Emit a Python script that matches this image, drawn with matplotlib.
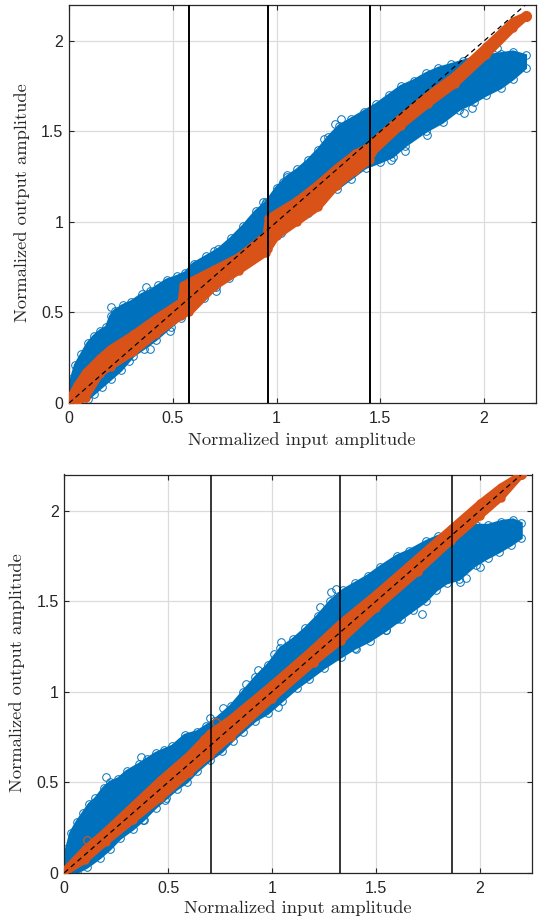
import matplotlib
matplotlib.use('Agg')
import matplotlib.pyplot as plt

blue = '#0072BD'
orange = '#D95319'
dark = '#262626'
ticks = [0, 0.5, 1, 1.5, 2]
tick_labels = ['0', '0.5', '1', '1.5', '2']
xlabel = 'Normalized input amplitude'
ylabel = 'Normalized output amplitude'

# top panel, edges of the clouds
top_vlines = [0.58, 0.96, 1.45]
top_up_x = [0, 0.01, 0.03, 0.06, 0.09, 0.12, 0.15, 0.18, 0.2, 0.22, 0.26, 0.3, 0.35, 0.39, 0.43, 0.47, 0.52,
            0.56, 0.6, 0.66, 0.72, 0.78, 0.84, 0.9, 0.95, 1.0, 1.05, 1.1, 1.15, 1.2, 1.25, 1.3, 1.36, 1.42,
            1.48, 1.54, 1.6, 1.66, 1.72, 1.78, 1.84, 1.9, 1.96, 2.02, 2.08, 2.14, 2.2]
top_up_y = [0.03, 0.13, 0.21, 0.27, 0.33, 0.37, 0.4, 0.42, 0.48, 0.51, 0.54, 0.56, 0.6, 0.62, 0.65, 0.68, 0.7,
            0.72, 0.77, 0.81, 0.85, 0.91, 0.98, 1.06, 1.11, 1.19, 1.25, 1.29, 1.34, 1.4, 1.47, 1.53, 1.57, 1.61,
            1.65, 1.7, 1.75, 1.78, 1.82, 1.85, 1.87, 1.89, 1.91, 1.92, 1.93, 1.94, 1.92]
top_lo_x = [0, 0.05, 0.09, 0.12, 0.16, 0.2, 0.25, 0.31, 0.36, 0.42, 0.49, 0.54, 0.58, 0.65, 0.71, 0.77, 0.82,
            0.88, 0.95, 1.02, 1.08, 1.15, 1.22, 1.29, 1.36, 1.43, 1.5, 1.56, 1.62, 1.72, 1.8, 1.88, 1.95,
            2.01, 2.08, 2.14, 2.2]
top_lo_y = [0, 0, 0.02, 0.05, 0.09, 0.13, 0.18, 0.26, 0.3, 0.35, 0.42, 0.47, 0.52, 0.58, 0.64, 0.69, 0.74,
            0.8, 0.86, 0.94, 1.0, 1.05, 1.12, 1.18, 1.24, 1.3, 1.33, 1.36, 1.42, 1.5, 1.55, 1.62, 1.66,
            1.7, 1.74, 1.79, 1.85]
top_out_x = [1.312, 1.28, 1.23, 1.05, 1.03, 0.945, 1.94, 1.905, 1.725, 1.62, 1.55, 2.06, 0.486, 0.39, 0.29, 0.2, 0.37, 0.71, 0.7, 0.935]
top_out_y = [1.567, 1.54, 1.46, 1.26, 1.22, 1.1, 1.63, 1.6, 1.48, 1.39, 1.34, 1.96, 0.4, 0.3, 0.23, 0.53, 0.64, 0.62, 0.84, 1.11]
top_or_x = [0, 0.04, 0.08, 0.15, 0.2, 0.31, 0.42, 0.54, 0.55, 0.58, 0.7, 0.82, 0.95, 0.96, 1.0, 1.1, 1.2, 1.29,
            1.38, 1.45, 1.46, 1.6, 1.73, 1.86, 2.01, 2.14, 2.2]
top_or_up = [0.02, 0.1, 0.17, 0.25, 0.3, 0.38, 0.47, 0.56, 0.65, 0.67, 0.74, 0.81, 0.93, 1.02, 1.05, 1.12, 1.21,
             1.3, 1.38, 1.42, 1.44, 1.58, 1.7, 1.81, 1.97, 2.11, 2.14]
top_or_lo = [0, 0, 0.03, 0.16, 0.2, 0.28, 0.38, 0.48, 0.49, 0.5, 0.64, 0.73, 0.83, 0.85, 0.92, 1.0, 1.08, 1.2,
             1.28, 1.34, 1.38, 1.53, 1.65, 1.76, 1.92, 2.07, 2.13]

# bottom panel
bot_vlines = [0.705, 1.328, 1.865]
bot_up_x = [0, 0.01, 0.03, 0.06, 0.09, 0.12, 0.15, 0.19, 0.22, 0.26, 0.3, 0.36, 0.4, 0.44, 0.48, 0.52, 0.58,
            0.64, 0.68, 0.72, 0.8, 0.86, 0.92, 0.98, 1.04, 1.1, 1.16, 1.22, 1.28, 1.34, 1.4, 1.46, 1.52,
            1.6, 1.66, 1.74, 1.8, 1.86, 1.92, 1.98, 2.04, 2.1, 2.16, 2.2]
bot_up_y = [0.03, 0.13, 0.22, 0.28, 0.33, 0.38, 0.41, 0.47, 0.5, 0.52, 0.56, 0.6, 0.63, 0.66, 0.68, 0.7, 0.76,
            0.78, 0.81, 0.84, 0.92, 1.0, 1.08, 1.15, 1.24, 1.29, 1.35, 1.42, 1.5, 1.56, 1.6, 1.64, 1.69,
            1.75, 1.78, 1.83, 1.86, 1.87, 1.9, 1.92, 1.92, 1.94, 1.95, 1.93]
bot_lo_x = [0, 0.06, 0.11, 0.17, 0.22, 0.27, 0.33, 0.38, 0.44, 0.49, 0.54, 0.59, 0.64, 0.7, 0.76, 0.81, 0.86,
            0.92, 0.98, 1.05, 1.12, 1.18, 1.25, 1.33, 1.4, 1.47, 1.55, 1.62, 1.68, 1.74, 1.79, 1.84, 1.9, 1.98,
            2.04, 2.09, 2.15, 2.2]
bot_lo_y = [0, 0, 0.03, 0.08, 0.13, 0.19, 0.24, 0.29, 0.36, 0.41, 0.46, 0.5, 0.56, 0.62, 0.67, 0.73, 0.78,
            0.84, 0.88, 0.95, 1.02, 1.07, 1.13, 1.19, 1.24, 1.28, 1.34, 1.4, 1.45, 1.5, 1.56, 1.6, 1.62, 1.7,
            1.74, 1.77, 1.81, 1.85]
bot_out_x = [1.31, 1.285, 1.23, 1.045, 1.01, 1.935, 1.905, 2.0, 1.72, 1.6, 1.55, 1.405, 0.2, 0.485, 0.385, 0.37,
             1.03, 0.93, 0.875, 0.765, 0.7]
bot_out_y = [1.565, 1.55, 1.47, 1.275, 1.21, 1.63, 1.605, 1.69, 1.43, 1.4, 1.34, 1.235, 0.53, 0.4, 0.29, 0.64,
             0.915, 1.12, 1.04, 0.91, 0.855]
bot_or_x = [0, 0.1, 0.2, 0.33, 0.46, 0.6, 0.7, 0.8, 1.0, 1.2, 1.33, 1.5, 1.7, 1.86, 2.0, 2.1, 2.2]
bot_or_up = [0.01, 0.13, 0.23, 0.37, 0.51, 0.65, 0.77, 0.85, 1.04, 1.24, 1.38, 1.54, 1.74, 1.9, 2.04, 2.13, 2.2]
bot_or_lo = [0, 0.07, 0.17, 0.29, 0.41, 0.55, 0.65, 0.75, 0.96, 1.16, 1.28, 1.46, 1.66, 1.83, 1.97, 2.07, 2.2]
bot_or_out_x = [0.11, 0.67, 0.73, 0.58]
bot_or_out_y = [0.18, 0.74, 0.83, 0.63]


def draw(ax, up_x, up_y, lo_x, lo_y, out_x, out_y, or_x, or_up, or_lo, vlines, vlw):
    ax.grid(True, color='#dcdcdc', lw=0.9)
    ax.set_axisbelow(True)
    # cloud body goes through both edges, drawn as one closed band
    ax.fill(up_x + lo_x[::-1], up_y + lo_y[::-1], color=blue, lw=2, zorder=2)
    for xs, ys in [(up_x, up_y), (lo_x, lo_y), (out_x, out_y)]:
        ax.plot(xs, ys, 'o', mfc='none', mec=blue, ms=5.5, mew=0.7, zorder=2.5)
    ax.fill(or_x + or_x[::-1], or_up + or_lo[::-1], color=orange, lw=5, joinstyle='round', zorder=3)
    ax.plot(or_x, or_up, 'o', mfc=orange, mec=orange, ms=5, zorder=3)
    ax.plot(or_x, or_lo, 'o', mfc=orange, mec=orange, ms=5, zorder=3)
    ax.plot(or_x[-1], or_up[-1], 'o', mfc=orange, mec=orange, ms=7, zorder=3)
    ax.plot([0, 2.2], [0, 2.2], 'k--', lw=0.9, dashes=(4, 3), zorder=4)
    for v in vlines:
        ax.axvline(v, color='k', lw=vlw, zorder=5)
    ax.set_xlim(0, 2.25)
    ax.set_ylim(0, 2.2)
    ax.set_xticks(ticks)
    ax.set_xticklabels(tick_labels, family='Liberation Sans', fontsize=11.5, color=dark)
    ax.set_yticks(ticks)
    ax.set_yticklabels(tick_labels, family='Liberation Sans', fontsize=11.5, color=dark)
    ax.tick_params(direction='in', top=True, right=True, length=3.5, width=0.8, color=dark)
    ax.tick_params(axis='x', pad=6)
    ax.tick_params(axis='y', pad=4)
    for s in ax.spines.values():
        s.set_color(dark)
        s.set_linewidth(0.9)


W, H = 539, 921
fig = plt.figure(figsize=(W / 100, H / 100), dpi=100)

ax1 = fig.add_axes([69 / W, 1 - 403 / H, 467 / W, 398.3 / H])
draw(ax1, top_up_x, top_up_y, top_lo_x, top_lo_y, top_out_x, top_out_y,
     top_or_x, top_or_up, top_or_lo, top_vlines, 1.4)

ax2 = fig.add_axes([64.3 / W, 1 - 872.7 / H, 467.5 / W, 398.2 / H])
draw(ax2, bot_up_x, bot_up_y, bot_lo_x, bot_lo_y, bot_out_x, bot_out_y,
     bot_or_x, bot_or_up, bot_or_lo, bot_vlines, 1.1)
ax2.plot(bot_or_out_x, bot_or_out_y, 'o', mfc='none', mec=orange, ms=5.5, mew=0.8, zorder=3.5)

fig.text(302 / W, 1 - 440 / H, xlabel, family='cmr10', fontsize=13.3, ha='center', va='center', color=dark)
fig.text(22 / W, 1 - 203 / H, ylabel, family='cmr10', fontsize=13.3, ha='center', va='center', rotation=90, color=dark)
fig.text(297.5 / W, 1 - 908 / H, xlabel, family='cmr10', fontsize=13.3, ha='center', va='center', color=dark)
fig.text(17 / W, 1 - 673 / H, ylabel, family='cmr10', fontsize=13.3, ha='center', va='center', rotation=90, color=dark)

fig.savefig('out.png', dpi=100)
